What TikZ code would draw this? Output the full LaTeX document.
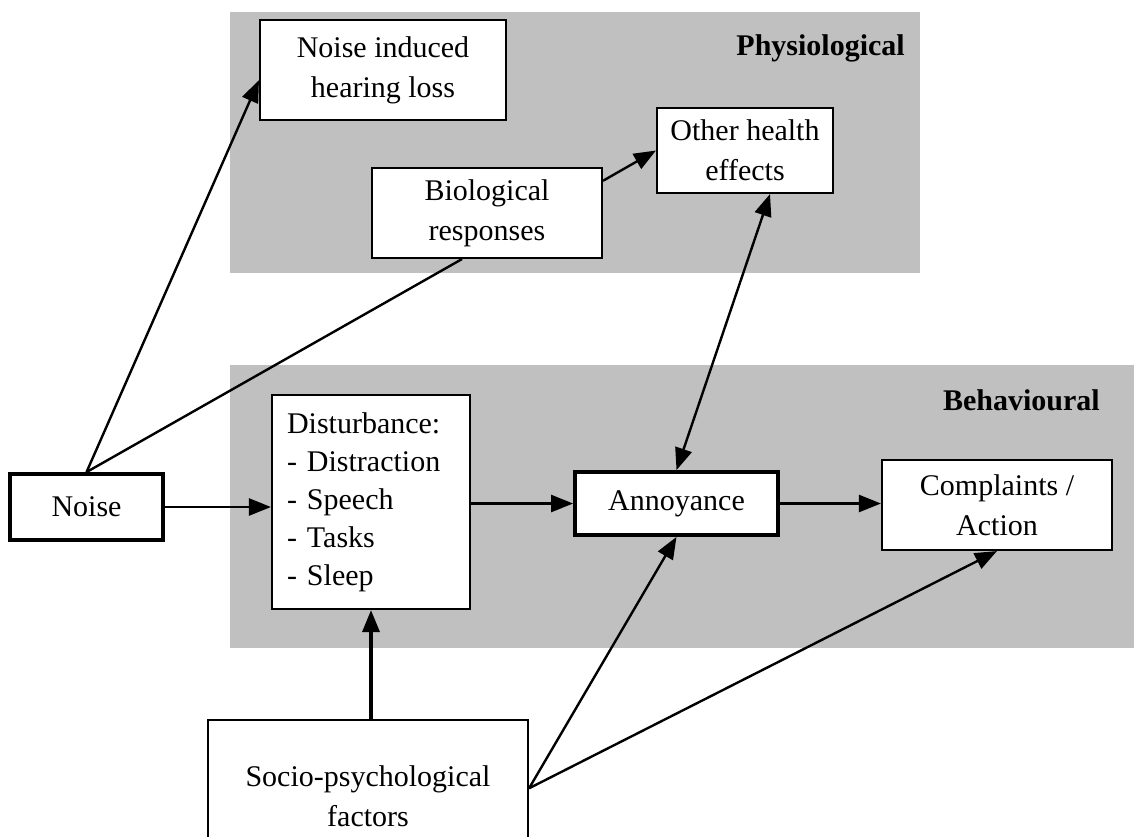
\documentclass[tikz,border=0pt]{standalone}
\usepackage{fontspec}
\setmainfont{Liberation Serif}
\usetikzlibrary{arrows.meta,calc}
\definecolor{panelgray}{RGB}{192,192,192}
\begin{document}
\begin{tikzpicture}[x=1pt,y=-1pt,
 box/.style={draw=black, line width=2.1pt, fill=white, inner sep=0pt, align=center, font=\fontsize{30}{40}\selectfont},
 thickbox/.style={box, line width=3.8pt},
 panel/.style={fill=panelgray, draw=none},
 conn/.style={line width=2.4pt, -{Triangle[length=22pt,width=17pt]}},
 biconn/.style={line width=2.4pt, {Triangle[length=22pt,width=17pt]}-{Triangle[length=22pt,width=17pt]}},
 plainline/.style={line width=2.4pt},
 paneltitle/.style={font=\fontsize{30}{36}\selectfont\bfseries, inner sep=0pt, anchor=east}
]
\useasboundingbox (0,0) rectangle (1134,836);
\fill[white] (0,0) rectangle (1134,836);
\path[panel] (230,12) rectangle (920,273);
\path[panel] (230,365) rectangle (1134,648);
\node[paneltitle] (phys) at (905,48) {Physiological};
\node[paneltitle] (beh) at (1100,400) {Behavioural};

\node[box, minimum width=246pt, minimum height=100pt] (nihl) at (383,70) {Noise induced\\hearing loss};
\node[box, minimum width=176pt, minimum height=85pt] (other) at (745,150.5) {Other health\\effects};
\node[box, minimum width=230pt, minimum height=90pt] (bio) at (487,213) {Biological\\responses};
\node[thickbox, minimum width=153pt, minimum height=66pt] (noise) at (86.5,507) {Noise};
\node[box, align=left, text width=168pt, inner xsep=15pt, minimum height=214pt, font=\fontsize{30}{38}\selectfont] (dist) at (371,502) {Disturbance:\\- Distraction\\- Speech\\- Tasks\\- Sleep};
\node[thickbox, minimum width=203pt, minimum height=63pt] (ann) at (676.5,503.5) {Annoyance};
\node[box, minimum width=230pt, minimum height=90pt] (comp) at (997,505) {Complaints /\\Action};
\node[box, minimum width=320pt, minimum height=152pt] (socio) at (368,796) {Socio-psychological\\factors};

\draw[conn] (noise.north) -- ($(nihl.south west)!0.4!(nihl.north west)$);
\draw[plainline] (noise.north) -- ($(bio.south)+(-25,0)$);
\draw[conn] ($(bio.north east)!0.15!(bio.south east)$) -- (other.west);
\draw[biconn] (ann.north) -- ($(other.south)+(25,0)$);
\draw[conn] (noise.east) -- (noise.east -| dist.west);
\draw[conn] (ann.west -| dist.east) -- (ann.west);
\draw[conn] (ann.east) -- (ann.east -| comp.west);
\draw[conn, line width=3.4pt] (socio.north -| dist.south) -- (dist.south);
\draw[conn] ($(socio.north east)!0.45!(socio.south east)$) -- (ann.south);
\draw[conn] ($(socio.north east)!0.45!(socio.south east)$) -- (comp.south);
\end{tikzpicture}
\end{document}
